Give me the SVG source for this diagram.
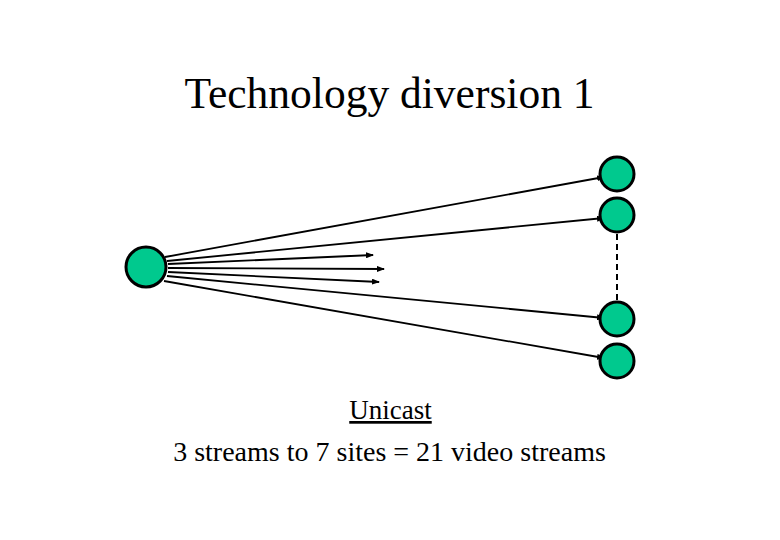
<svg xmlns="http://www.w3.org/2000/svg" width="780" height="540" viewBox="0 0 780 540">
<style>
.node{fill:#00c98e;stroke:#000;stroke-width:3}
.edge{stroke:#000;stroke-width:1.8;fill:none;marker-end:url(#ah)}
.t{font-family:'Liberation Serif','Times New Roman',serif;fill:#000}
</style>
<defs>
<marker id="ah" markerWidth="8" markerHeight="6" refX="7" refY="3" orient="auto" markerUnits="userSpaceOnUse">
<path d="M0,0 L8,3 L0,6 z" fill="#000"/>
</marker>
</defs>
<rect width="780" height="540" fill="#fff"/>
<text class="t" x="389.5" y="108" font-size="43.5" text-anchor="middle">Technology diversion 1</text>
<g id="connectors">
<line class="edge" x1="165" y1="257" x2="604" y2="177"/>
<line class="edge" x1="167" y1="261" x2="604" y2="218"/>
<line class="edge" x1="168" y1="264" x2="373" y2="255"/>
<line class="edge" x1="168" y1="268" x2="384" y2="269"/>
<line class="edge" x1="168" y1="272" x2="379" y2="282"/>
<line class="edge" x1="167" y1="276" x2="604" y2="318"/>
<line class="edge" x1="164" y1="281" x2="604" y2="358"/>
<line x1="617" y1="234" x2="617" y2="300" stroke="#000" stroke-width="2" stroke-dasharray="6,4"/>
</g>
<g id="source"><circle class="node" cx="146" cy="267" r="20"/></g>
<g id="site1"><circle class="node" cx="617" cy="174" r="17"/></g>
<g id="site2"><circle class="node" cx="617" cy="215" r="17"/></g>
<g id="site3"><circle class="node" cx="617" cy="319" r="17"/></g>
<g id="site4"><circle class="node" cx="617" cy="361" r="17"/></g>
<text class="t" x="390.5" y="419" font-size="27" text-anchor="middle" text-decoration="underline">Unicast</text>
<text class="t" x="389.5" y="461" font-size="28" text-anchor="middle">3 streams to 7 sites = 21 video streams</text>
</svg>
